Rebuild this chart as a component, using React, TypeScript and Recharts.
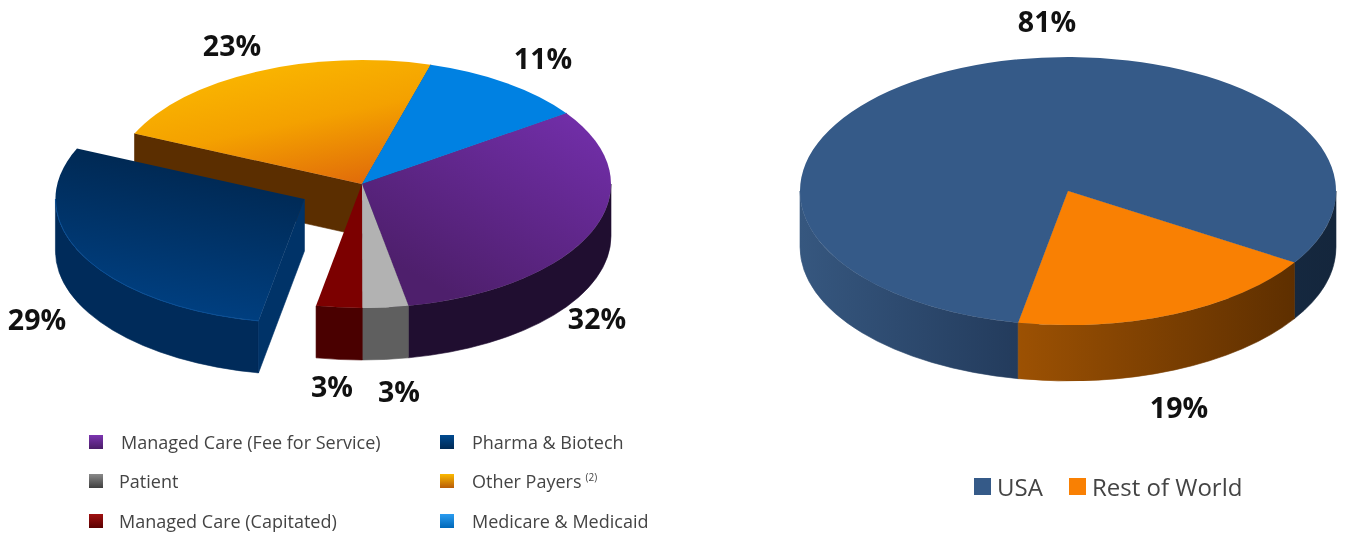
import React from "react";
import { PieChart, Pie } from "recharts";

// payer mix (left pie), listed back to front so the front slices paint last
const payerNames = ["Other Payers", "Medicare & Medicaid", "Managed Care (Fee for Service)", "Patient", "Managed Care (Capitated)", "Pharma & Biotech"];
const payerShares = [23, 11, 32, 3, 3, 29];

// region mix (right pie)
const regionNames = ["USA", "Rest of World"];
const regionShares = [81, 19];

const explodedSlice = "Pharma & Biotech";

const payerData = payerNames.map((name, i) => ({ name, value: payerShares[i] }));
const regionData = regionNames.map((name, i) => ({ name, value: regionShares[i] }));

const FONT = '"Open Sans", "Noto Sans", sans-serif';

const sliceStyles: Record<string, { top: string; wall: string; cut: string; rim?: string }> = {
  "Other Payers": { top: "url(#topOrange)", wall: "#5b2e00", cut: "#5b2e00" },
  "Medicare & Medicaid": { top: "#0081e2", wall: "#00508c", cut: "#00508c" },
  "Managed Care (Fee for Service)": { top: "url(#topPurple)", wall: "#200e30", cut: "#200e30" },
  Patient: { top: "#b2b2b2", wall: "#5f5f5f", cut: "#5f5f5f" },
  "Managed Care (Capitated)": { top: "#7c0000", wall: "#4a0000", cut: "#4a0000" },
  "Pharma & Biotech": { top: "url(#topBlue)", wall: "#002b5a", cut: "#003368", rim: "#0a4f96" },
  USA: { top: "#355a88", wall: "url(#wallUsa)", cut: "#355a88" },
  "Rest of World": { top: "#f98003", wall: "url(#wallRest)", cut: "#f98003" },
};

const payerLabelSpots = [
  [232, 45],
  [543, 58],
  [597, 318],
  [399, 391],
  [332, 386],
  [37, 319],
];
const regionLabelSpots = [
  [1047, 21],
  [1179, 407],
];

const payerLegend = [
  { name: "Managed Care (Fee for Service)", sx: 89, tx: 121, y: 442, c1: "#7c35b0", c2: "#4a1d68" },
  { name: "Patient", sx: 89, tx: 119, y: 481, c1: "#8a8a8a", c2: "#3f3f3f" },
  { name: "Managed Care (Capitated)", sx: 89, tx: 119, y: 521, c1: "#a01010", c2: "#5a0000" },
  { name: "Pharma & Biotech", sx: 440, tx: 472, y: 442, c1: "#004a90", c2: "#002a55" },
  { name: "Other Payers", sx: 440, tx: 472, y: 481, sup: "(2)", c1: "#fbb900", c2: "#b85c08" },
  { name: "Medicare & Medicaid", sx: 440, tx: 472, y: 521, c1: "#2a9cf0", c2: "#0068b8" },
];

function slice3d(squash: number, depth: number) {
  return function Slice(props: any) {
    const { cx, cy, outerRadius: rx, startAngle: a, endAngle: b, midAngle } = props;
    const name = props.payload?.name ?? props.name;
    const style = sliceStyles[name];
    const ry = rx * squash;
    const rad = Math.PI / 180;

    // the pulled-out slice moves along its own mid angle
    const pull = name === explodedSlice ? 65 : 0;
    const ox = cx + pull * Math.cos(midAngle * rad);
    const oy = cy - pull * squash * Math.sin(midAngle * rad);

    const px = (t: number) => ox + rx * Math.cos(t * rad);
    const py = (t: number) => oy - ry * Math.sin(t * rad);

    const top = `M${ox},${oy} L${px(a)},${py(a)} A${rx},${ry} 0 ${a - b > 180 ? 1 : 0} 1 ${px(b)},${py(b)} Z`;

    // outer wall, only the parts of the arc on the front half
    const walls: string[] = [];
    const rims: string[] = [];
    for (let k = -2; k <= 1; k++) {
      const hi = Math.min(a, 360 * k);
      const lo = Math.max(b, 360 * k - 180);
      if (hi <= lo) continue;
      walls.push(
        `M${px(hi)},${py(hi)} A${rx},${ry} 0 0 1 ${px(lo)},${py(lo)} L${px(lo)},${py(lo) + depth} A${rx},${ry} 0 0 0 ${px(hi)},${py(hi) + depth} Z`,
      );
      rims.push(`M${px(hi)},${py(hi)} A${rx},${ry} 0 0 1 ${px(lo)},${py(lo)}`);
    }

    const face = (t: number) => `M${ox},${oy} L${px(t)},${py(t)} L${px(t)},${py(t) + depth} L${ox},${oy + depth} Z`;

    return (
      <g>
        {walls.map((d, i) => (
          <path key={i} d={d} fill={style.wall} stroke={style.wall} strokeWidth={0.6} />
        ))}
        {Math.cos(a * rad) < 0 && <path d={face(a)} fill={style.cut} stroke={style.cut} strokeWidth={0.6} />}
        {Math.cos(b * rad) > 0 && <path d={face(b)} fill={style.cut} stroke={style.cut} strokeWidth={0.6} />}
        <path d={top} fill={style.top} />
        {style.rim && rims.map((d, i) => <path key={i} d={d} fill="none" stroke={style.rim} strokeWidth={1} />)}
      </g>
    );
  };
}

function percentLabel(spots: number[][]) {
  return function PercentLabel(props: any) {
    const [x, y] = spots[props.index];
    return (
      <text x={x} y={y} textAnchor="middle" dominantBaseline="central" fontFamily={FONT} fontWeight={700} fontSize={28.5} fill="#111">
        {props.value}%
      </text>
    );
  };
}

export default function App() {
  return (
    <div style={{ position: "absolute", left: 0, top: 0, width: 1345, height: 536, background: "#fff", overflow: "hidden", fontFamily: FONT, filter: "blur(0.5px)" }}>
      <PieChart width={1345} height={536} margin={{ top: 0, right: 0, bottom: 0, left: 0 }}>
        <defs>
          <linearGradient id="topOrange" x1="0.3" y1="0" x2="0.8" y2="1">
            <stop offset="0" stopColor="#fbb900" />
            <stop offset="0.5" stopColor="#f4a100" />
            <stop offset="1" stopColor="#e06a0a" />
          </linearGradient>
          <linearGradient id="topPurple" x1="0.9" y1="0.05" x2="0.3" y2="0.9">
            <stop offset="0" stopColor="#712ea8" />
            <stop offset="1" stopColor="#4e1f6c" />
          </linearGradient>
          <linearGradient id="topBlue" x1="0.7" y1="0.05" x2="0.45" y2="1">
            <stop offset="0" stopColor="#00264e" />
            <stop offset="1" stopColor="#004184" />
          </linearGradient>
          <linearGradient id="wallUsa" gradientUnits="userSpaceOnUse" x1="800" y1="0" x2="1336" y2="0">
            <stop offset="0" stopColor="#36577f" />
            <stop offset="0.41" stopColor="#233b5c" />
            <stop offset="0.92" stopColor="#15283f" />
            <stop offset="1" stopColor="#14263c" />
          </linearGradient>
          <linearGradient id="wallRest" x1="0" y1="0" x2="1" y2="0">
            <stop offset="0" stopColor="#9c5103" />
            <stop offset="1" stopColor="#5e2f00" />
          </linearGradient>
        </defs>
        <Pie
          data={payerData}
          dataKey="value"
          nameKey="name"
          cx={362}
          cy={184}
          outerRadius={249}
          startAngle={156}
          endAngle={-204}
          stroke="none"
          isAnimationActive={false}
          shape={slice3d(0.498, 52)}
          label={percentLabel(payerLabelSpots)}
          labelLine={false}
        />
        <Pie
          data={regionData}
          dataKey="value"
          nameKey="name"
          cx={1068}
          cy={191}
          outerRadius={268}
          startAngle={-100.7}
          endAngle={-460.7}
          stroke="none"
          isAnimationActive={false}
          shape={slice3d(0.5, 56)}
          label={percentLabel(regionLabelSpots)}
          labelLine={false}
        />
      </PieChart>

      {payerLegend.map((item) => (
        <React.Fragment key={item.name}>
          <div style={{ position: "absolute", left: item.sx, top: item.y - 7, width: 14, height: 14, background: `linear-gradient(${item.c1}, ${item.c2})` }} />
          <div style={{ position: "absolute", left: item.tx, top: item.y - 12, fontSize: 18, lineHeight: "24px", color: "#444", whiteSpace: "nowrap" }}>
            {item.name}
            {item.sup && <sup style={{ fontSize: 10, marginLeft: 4, lineHeight: 0 }}>{item.sup}</sup>}
          </div>
        </React.Fragment>
      ))}

      {regionNames.map((name, i) => (
        <React.Fragment key={name}>
          <div style={{ position: "absolute", left: i === 0 ? 974 : 1069, top: 478, width: 17, height: 17, background: i === 0 ? "#355a88" : "#f98003" }} />
          <div style={{ position: "absolute", left: i === 0 ? 997 : 1092, top: 470, fontSize: 24, lineHeight: "34px", color: "#444", whiteSpace: "nowrap" }}>{name}</div>
        </React.Fragment>
      ))}
    </div>
  );
}
